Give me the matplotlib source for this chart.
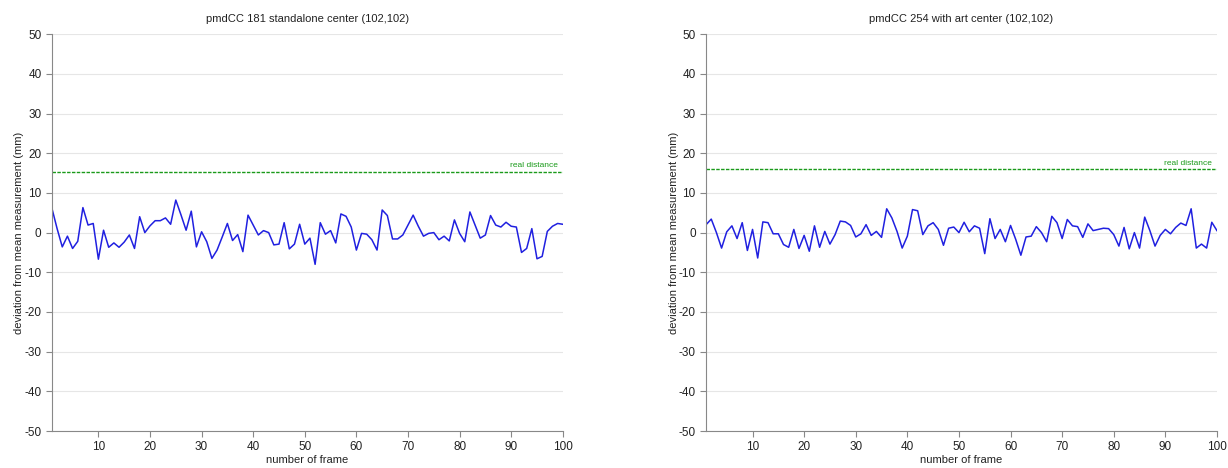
import numpy as np
import matplotlib
matplotlib.use('Agg')
import matplotlib.pyplot as plt

plt.rcParams['font.family'] = ['Liberation Sans', 'DejaVu Sans']
plt.rcParams['axes.unicode_minus'] = False

frames = np.arange(1, 101)

# pmdCC 181 standalone center (102,102)
dev_181 = [6.1, 1.0, -3.6, -0.9, -4.0, -2.2, 6.3, 1.9, 2.3, -6.7,
           0.6, -3.7, -2.6, -3.7, -2.4, -0.6, -4.0, 4.0, 0.0, 1.7,
           3.0, 3.0, 3.7, 2.1, 8.2, 4.5, 0.6, 5.4, -3.6, 0.2,
           -2.3, -6.5, -4.4, -1.1, 2.3, -2.0, -0.5, -4.8, 4.4, 1.9,
           -0.6, 0.5, 0.0, -3.1, -2.9, 2.5, -4.1, -2.9, 2.1, -2.9,
           -1.4, -8.0, 2.5, -0.4, 0.5, -2.6, 4.7, 4.1, 1.4, -4.4,
           -0.2, -0.4, -1.8, -4.4, 5.7, 4.3, -1.6, -1.6, -0.6, 1.9,
           4.4, 1.6, -0.9, -0.2, 0.0, -1.8, -0.9, -2.1, 3.2, -0.2,
           -2.3, 5.2, 1.9, -1.4, -0.6, 4.3, 1.9, 1.4, 2.6, 1.6,
           1.4, -5.0, -4.0, 1.0, -6.6, -6.0, 0.3, 1.6, 2.3, 2.1]

# pmdCC 254 with art center (102,102)
dev_254 = [2.0, 3.4, 0.0, -3.9, 0.2, 1.7, -1.5, 2.5, -4.5, 0.8,
           -6.4, 2.7, 2.5, -0.3, -0.3, -3.0, -3.7, 0.8, -4.0, -0.7,
           -4.7, 1.7, -3.7, 0.3, -2.9, -0.5, 2.9, 2.7, 1.8, -1.1,
           -0.3, 2.0, -0.7, 0.3, -1.2, 6.0, 3.7, 0.3, -3.9, -0.9,
           5.8, 5.5, -0.5, 1.7, 2.5, 0.8, -3.2, 1.1, 1.4, 0.0,
           2.6, 0.2, 1.7, 1.1, -5.3, 3.5, -1.5, 0.8, -2.3, 1.8,
           -1.7, -5.7, -1.1, -0.9, 1.5, 0.0, -2.3, 4.1, 2.5, -1.5,
           3.3, 1.7, 1.5, -1.2, 2.2, 0.5, 0.8, 1.1, 1.0, -0.5,
           -3.4, 1.3, -4.1, 0.0, -3.9, 3.9, 0.5, -3.4, -0.7, 0.8,
           -0.3, 1.3, 2.4, 1.8, 6.0, -3.9, -2.9, -3.9, 2.6, 0.5]

real_181 = 15.3
real_254 = 16.0

titles = ['pmdCC 181 standalone center (102,102)', 'pmdCC 254 with art center (102,102)']
series = [dev_181, dev_254]
reals = [real_181, real_254]

fig = plt.figure(figsize=(12.28, 4.68), dpi=100)
lefts = [0.0423, 0.575]

for left, title, y, real in zip(lefts, titles, series, reals):
    ax = fig.add_axes([left, 0.079, 0.416, 0.848])
    ax.plot(frames, y, color='#2020e0', lw=1.1)
    ax.axhline(real, color='#1a9a1a', lw=1.0, ls=(0, (2.5, 1)))
    ax.text(99, real + 0.6, 'real distance', color='#1a9a1a', fontsize=6,
            ha='right', va='bottom')
    ax.set_xlim(1, 100)
    ax.set_ylim(-50, 50)
    ax.set_xticks(range(10, 101, 10))
    ax.set_yticks(range(-50, 51, 10))
    ax.yaxis.grid(True, color='#e6e6e6', lw=0.8)
    ax.set_axisbelow(True)
    for s in ['top', 'right']:
        ax.spines[s].set_visible(False)
    for s in ['left', 'bottom']:
        ax.spines[s].set_color('#888888')
    ax.tick_params(colors='#888888', labelcolor='#222222', labelsize=8.5, length=4)
    ax.set_title(title, fontsize=8, color='#222222', pad=9)
    ax.set_xlabel('number of frame', fontsize=8, color='#222222', labelpad=1)
    ax.set_ylabel('deviation from mean measurement (mm)', fontsize=8, color='#222222', labelpad=0)

fig.savefig('out.png', dpi=100)
